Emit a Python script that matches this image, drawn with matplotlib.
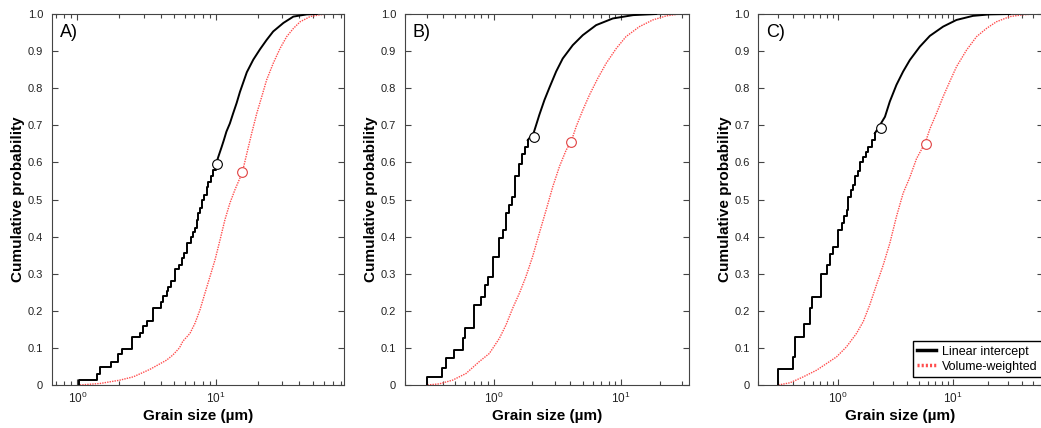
import matplotlib
matplotlib.use("Agg")
import matplotlib.pyplot as plt
from matplotlib.lines import Line2D
from matplotlib.ticker import LogLocator, NullFormatter

plt.rcParams['font.family'] = ['Liberation Sans', 'DejaVu Sans']
plt.rcParams['mathtext.fontset'] = 'custom'
plt.rcParams['mathtext.rm'] = 'Liberation Sans'
plt.rcParams['mathtext.it'] = 'Liberation Sans:italic'
plt.rcParams['mathtext.bf'] = 'Liberation Sans:bold'

# ---------------- data (grain size in µm, cumulative probability) ----------------
panel_labels = ["A)", "B)", "C)"]
legend_labels = ["Linear intercept", "Volume-weighted"]
y_ticks = [0, 0.1, 0.2, 0.3, 0.4, 0.5, 0.6, 0.7, 0.8, 0.9, 1.0]
y_ticklabels = ["0", "0.1", "0.2", "0.3", "0.4", "0.5", "0.6", "0.7", "0.8", "0.9", "1.0"]
x_limits = [(0.65, 84), (0.2, 34), (0.2, 60)]

# Panel A
A_li_step_x = [1.03, 1.03, 1.39, 1.45, 1.76, 1.97, 2.11, 2.46, 2.82, 2.98, 3.19, 3.52, 3.98, 4.16,
               4.40, 4.52, 4.70, 5.06, 5.43, 5.65, 5.87, 6.14, 6.56, 6.78, 7.05, 7.25, 7.45, 7.66,
               7.87, 8.19, 8.56, 8.81, 9.15, 9.57, 10.0]
A_li_step_y = [0, 0.013, 0.030, 0.048, 0.063, 0.084, 0.097, 0.130, 0.141, 0.159, 0.173, 0.207, 0.225,
               0.240, 0.254, 0.265, 0.280, 0.312, 0.323, 0.341, 0.355, 0.382, 0.398, 0.413, 0.422,
               0.445, 0.463, 0.476, 0.499, 0.512, 0.535, 0.548, 0.562, 0.580, 0.594]
A_li_tail_x = [10.0, 10.4, 11.0, 11.4, 11.9, 12.6, 13.3, 14.1, 14.9, 16.7, 18.6, 20.8, 23.2, 25.9,
               30.7, 36.2, 45.2, 53.4]
A_li_tail_y = [0.594, 0.615, 0.642, 0.660, 0.683, 0.705, 0.732, 0.760, 0.790, 0.843, 0.877, 0.905,
               0.930, 0.953, 0.976, 0.993, 0.999, 1.0]
A_vw_x = [1.04, 1.45, 2.02, 2.53, 3.33, 4.40, 4.89, 5.45, 5.77, 6.49, 7.05, 7.66, 8.32, 9.05, 9.84,
          10.7, 11.6, 12.6, 13.7, 15.5, 16.7, 18.1, 19.7, 21.4, 23.2, 25.9, 29.0, 32.4, 36.2, 40.5,
          47.8, 56.5, 66.7]
A_vw_y = [0, 0.004, 0.013, 0.022, 0.042, 0.067, 0.081, 0.100, 0.118, 0.139, 0.166, 0.202, 0.247,
          0.292, 0.337, 0.391, 0.445, 0.490, 0.526, 0.573, 0.624, 0.678, 0.732, 0.777, 0.822,
          0.867, 0.907, 0.939, 0.961, 0.979, 0.993, 0.998, 1.0]
A_li_mean = (10.1, 0.596)
A_vw_mean = (15.5, 0.573)

# Panel B
B_li_step_x = [0.298, 0.298, 0.397, 0.422, 0.491, 0.571, 0.599, 0.697, 0.796, 0.855, 0.898, 0.994,
               1.11, 1.18, 1.25, 1.33, 1.39, 1.48, 1.59, 1.67, 1.77, 1.85]
B_li_step_y = [0, 0.022, 0.045, 0.072, 0.094, 0.128, 0.153, 0.216, 0.238, 0.270, 0.292, 0.346,
               0.395, 0.418, 0.463, 0.485, 0.508, 0.562, 0.597, 0.623, 0.642, 0.660]
B_li_tail_x = [1.85, 2.06, 2.15, 2.28, 2.50, 2.74, 3.09, 3.48, 4.17, 5.00, 6.36, 8.60, 12.4, 18.8]
B_li_tail_y = [0.660, 0.680, 0.700, 0.728, 0.768, 0.802, 0.845, 0.880, 0.916, 0.943, 0.970, 0.988,
               0.997, 1.0]
B_vw_x = [0.303, 0.374, 0.476, 0.607, 0.771, 0.925, 1.11, 1.25, 1.41, 1.59, 1.79, 2.02, 2.28, 2.58,
          2.91, 3.28, 3.70, 4.05, 4.43, 5.00, 5.64, 6.56, 7.62, 9.14, 10.9, 13.9, 17.7, 22.6, 28.7]
B_vw_y = [0, 0.003, 0.013, 0.031, 0.063, 0.085, 0.126, 0.162, 0.207, 0.247, 0.292, 0.346, 0.409,
          0.472, 0.535, 0.589, 0.633, 0.656, 0.696, 0.741, 0.782, 0.827, 0.867, 0.907, 0.939,
          0.966, 0.984, 0.995, 1.0]
B_li_mean = (2.06, 0.668)
B_vw_mean = (4.05, 0.656)

# Panel C
C_li_step_x = [0.301, 0.301, 0.401, 0.423, 0.503, 0.567, 0.594, 0.702, 0.802, 0.847, 0.893, 0.987,
               1.07, 1.12, 1.18, 1.22, 1.29, 1.35, 1.40, 1.49, 1.56, 1.65, 1.74, 1.82, 1.95, 2.08]
C_li_step_y = [0, 0.042, 0.076, 0.130, 0.164, 0.207, 0.238, 0.299, 0.323, 0.353, 0.373, 0.418,
               0.436, 0.456, 0.472, 0.508, 0.526, 0.539, 0.562, 0.578, 0.600, 0.615, 0.629, 0.642,
               0.660, 0.678]
C_li_tail_x = [2.08, 2.30, 2.55, 2.81, 3.21, 3.67, 4.20, 5.13, 6.27, 8.18, 10.7, 14.9, 20.8, 31.1]
C_li_tail_y = [0.678, 0.700, 0.723, 0.764, 0.809, 0.845, 0.876, 0.912, 0.941, 0.966, 0.984, 0.995,
               0.999, 1.0]
C_vw_x = [0.301, 0.380, 0.496, 0.648, 0.792, 0.967, 1.18, 1.44, 1.65, 1.88, 2.15, 2.46, 2.81, 3.21,
          3.67, 4.20, 4.80, 5.75, 6.27, 7.16, 8.18, 9.35, 10.7, 13.1, 16.0, 19.5, 23.8, 31.1, 40.6,
          53.1]
C_vw_y = [0, 0.006, 0.022, 0.040, 0.058, 0.076, 0.103, 0.139, 0.171, 0.216, 0.270, 0.323, 0.382,
          0.454, 0.517, 0.560, 0.610, 0.655, 0.690, 0.732, 0.777, 0.818, 0.858, 0.903, 0.939,
          0.961, 0.979, 0.993, 0.998, 1.0]
C_li_mean = (2.35, 0.692)
C_vw_mean = (5.75, 0.649)

panels = [
    (A_li_step_x, A_li_step_y, A_li_tail_x, A_li_tail_y, A_vw_x, A_vw_y, A_li_mean, A_vw_mean),
    (B_li_step_x, B_li_step_y, B_li_tail_x, B_li_tail_y, B_vw_x, B_vw_y, B_li_mean, B_vw_mean),
    (C_li_step_x, C_li_step_y, C_li_tail_x, C_li_tail_y, C_vw_x, C_vw_y, C_li_mean, C_vw_mean),
]

# ---------------- layout ----------------
W, H = 1041, 428
fig = plt.figure(figsize=(W / 100, H / 100), dpi=100)
axes_px = [(51.5, 344.0), (404.5, 689.0), (758.0, 1042.5)]
top_px, bot_px = 14.0, 385.0

RED = '#ff4d4d'
SPINE = '#444444'

for i, (sx, sy, tx, ty, vx, vy, lm, vm) in enumerate(panels):
    l, r = axes_px[i]
    ax = fig.add_axes([l / W, (H - bot_px) / H, (r - l) / W, (bot_px - top_px) / H])
    ax.plot(vx, vy, color=RED, lw=1.0, linestyle=(0, (1, 0.8)), zorder=2)
    ax.step(sx, sy, where='post', color='black', lw=1.4, zorder=3)
    ax.plot(tx, ty, color='black', lw=1.4, zorder=3)
    ax.plot([lm[0]], [lm[1]], 'o', ms=7, mfc='white', mec='black', mew=0.8, zorder=4)
    ax.plot([vm[0]], [vm[1]], 'o', ms=7, mfc='white', mec='#e04040', mew=0.8, zorder=4)

    ax.set_xscale('log')
    ax.set_xlim(*x_limits[i])
    ax.set_ylim(0, 1)
    ax.set_yticks(y_ticks)
    ax.set_yticklabels(y_ticklabels)
    ax.xaxis.set_major_locator(LogLocator(base=10.0, numticks=12))
    ax.xaxis.set_minor_locator(LogLocator(base=10.0, subs=(2, 3, 4, 5, 6, 7, 8, 9), numticks=12))
    ax.xaxis.set_minor_formatter(NullFormatter())
    ax.tick_params(axis='both', which='both', direction='in', top=True, right=True,
                   bottom=True, left=True, color=SPINE, labelcolor='#222222')
    ax.tick_params(axis='y', which='major', labelsize=8, pad=6)
    ax.tick_params(axis='x', which='major', labelsize=8.5, pad=4)
    ax.tick_params(axis='both', which='major', length=4.0, width=0.8)
    ax.tick_params(axis='x', which='minor', length=2.8, width=0.8)
    for sp in ax.spines.values():
        sp.set_color(SPINE)
        sp.set_linewidth(0.8)
    ax.set_xlabel('Grain size (µm)', fontsize=11, fontweight='bold', labelpad=2)
    ax.set_ylabel('Cumulative probability', fontsize=11, fontweight='bold', labelpad=2)
    ax.text(0.029, 0.949, panel_labels[i], transform=ax.transAxes, fontsize=13,
            ha='left', va='center')

handles = [Line2D([], [], color='black', lw=2.5),
           Line2D([], [], color=RED, lw=2.5, linestyle=(0, (0.6, 0.6)))]
fig.legend(handles, legend_labels, loc='lower left', bbox_to_anchor=(913 / W, 1 - 377 / H),
           bbox_transform=fig.transFigure, fontsize=9, frameon=True, fancybox=False,
           edgecolor='black', framealpha=1, borderaxespad=0, borderpad=0.35,
           labelspacing=0.25, handlelength=1.5, handletextpad=0.5)

fig.savefig('out.png', dpi=100)
